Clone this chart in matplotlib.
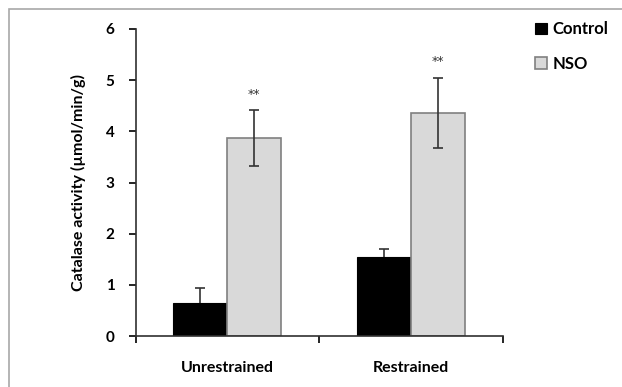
import numpy as np
import matplotlib
matplotlib.use("Agg")
import matplotlib.pyplot as plt
import matplotlib.patches as patches

groups = ["Unrestrained", "Restrained"]
series = ["Control", "NSO"]
control_mean = [0.645, 1.54]
control_err = [0.29, 0.16]
nso_mean = [3.87, 4.36]
nso_err = [0.54, 0.69]
stars = ["**", "**"]

plt.rcParams["font.family"] = ["Lato", "DejaVu Sans"]
plt.rcParams["font.weight"] = "bold"

fig = plt.figure(figsize=(6.22, 3.87), dpi=100)
# thin grey frame of the pasted chart (only top and left are in view)
fig.patches.append(patches.Rectangle(
    (9 / 622, -0.05), 1.0, 1 - 9 / 387 + 0.05, transform=fig.transFigure,
    fill=False, edgecolor="#a8a8a8", linewidth=1.2
))
ax = fig.add_axes([135.5 / 622, 51 / 387, 367.5 / 622, 307 / 387])

x = np.arange(len(groups))
w = 0.294
ebar = dict(ecolor="#333333", elinewidth=1.2, capsize=3.5, capthick=1.2)
# control error bars sit behind the black bars, so only the upper half shows
ax.bar(x - w / 2, control_mean, w, color="black", edgecolor="black", linewidth=0.8,
       yerr=control_err, error_kw=dict(ebar, zorder=1),
       label=series[0], zorder=2)
ax.bar(x + w / 2, nso_mean, w, color="#d9d9d9", edgecolor="#808080", linewidth=1.2,
       yerr=nso_err, error_kw=dict(ebar, zorder=3), label=series[1], zorder=2)
for xi, m, e, s in zip(x, nso_mean, nso_err, stars):
    ax.text(xi + w / 2, m + e + 0.31, s, ha="center", va="center", fontsize=9,
            family="DejaVu Sans", fontweight="normal", color="#333333")

ax.set_xlim(-0.5, 1.5)
ax.set_ylim(0, 6)
ax.set_yticks(range(7))
ax.set_xticks(x)
ax.set_xticklabels(groups, fontsize=11.5, fontweight="bold")
ax.set_xticks([-0.5, 0.5, 1.5], minor=True)
ax.tick_params(axis="x", which="major", length=0, pad=18)
ax.tick_params(axis="x", which="minor", length=5, width=1.2, direction="out")
ax.tick_params(axis="y", length=5, width=1.2, direction="out", labelsize=11, pad=10)
for lbl in ax.get_yticklabels():
    lbl.set_fontweight("bold")
for sp in ["top", "right"]:
    ax.spines[sp].set_visible(False)
for sp in ["left", "bottom"]:
    ax.spines[sp].set_color("#303030")
    ax.spines[sp].set_linewidth(1.2)
ax.set_ylabel("Catalase activity (\u00b5mol/min/g)", fontsize=11.5, fontweight="bold", labelpad=14)

leg = ax.legend(loc="upper left", bbox_to_anchor=(1.046, 1.074), frameon=False,
                handlelength=0.7, handleheight=0.7, handletextpad=0.35,
                labelspacing=1.12, prop=dict(size=12, weight="bold"))

fig.savefig("out.png", dpi=100)
